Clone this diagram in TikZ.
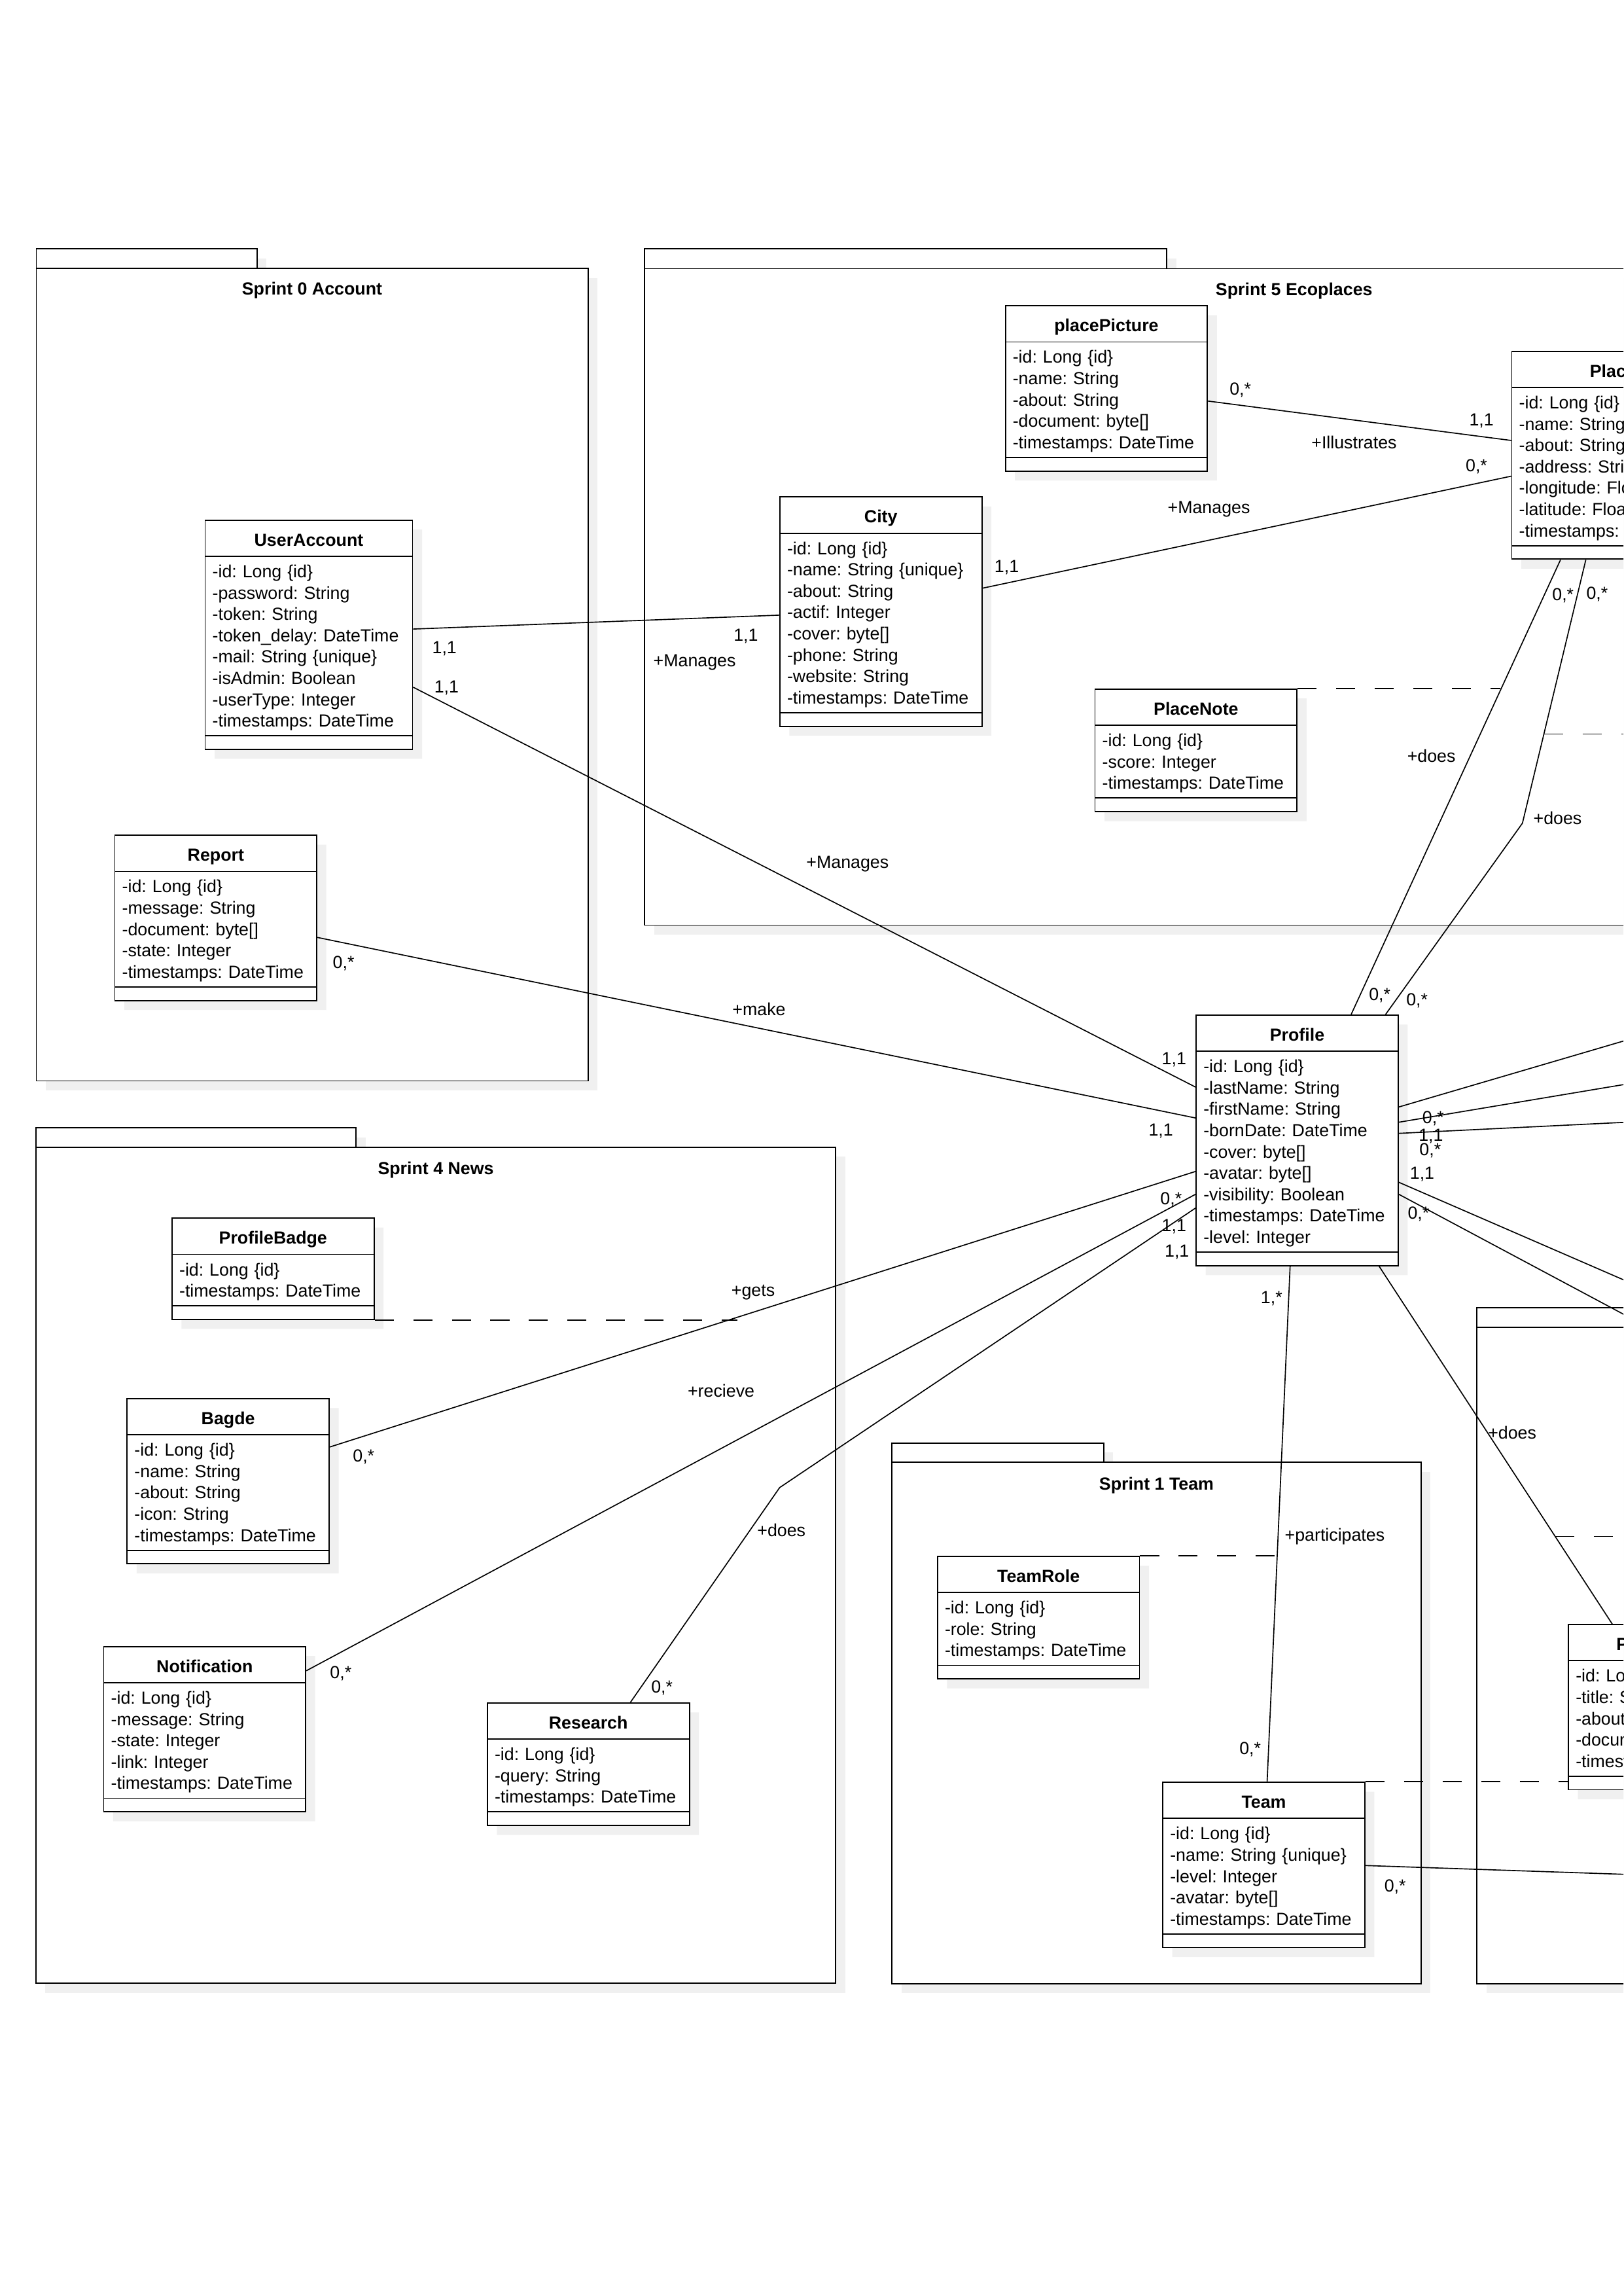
\documentclass[tikz,border=0pt]{standalone}
\usepackage{fontspec}
\setmainfont{Liberation Sans}
\usetikzlibrary{shapes.multipart,shadows,calc,positioning}

\newcommand{\umlfont}{\fontsize{6.45}{7.85}\selectfont\frenchspacing}
\newcommand{\umltitle}[1]{\makebox[\linewidth][c]{\rule[-3.58pt]{0pt}{12.88pt}\textbf{#1}}}
\newcommand{\umlfirst}{\rule{0pt}{7.6pt}}
\newcommand{\umllast}{\rule[-3.06pt]{0pt}{3.06pt}}
\newcommand{\umlops}{\rule{0pt}{4.53pt}}

\tikzset{
    shadowed/.style={drop shadow={shadow xshift=1.23mm, shadow yshift=-1.23mm, fill=black!6, opacity=1}},
    umlclass/.style={rectangle split, rectangle split parts=3, draw, fill=white, line width=0.45pt,
        anchor=north west, align=left, text width=68.97pt, inner xsep=2.7pt, inner ysep=0pt, shadowed},
    package/.style={draw, fill=white, line width=0.45pt, shadowed},
    pkgtitle/.style={font=\umlfont\bfseries, inner sep=0pt, text height=4.6pt, text depth=0pt},
    mult/.style={inner sep=0pt, text height=4.6pt, text depth=0pt},
    assoc/.style={line width=0.4pt},
    link/.style={line width=0.4pt, dash pattern=on 7pt off 7.2pt}
}

\begin{document}
\begin{tikzpicture}[x=0.18941mm, y=-0.18941mm, font=\umlfont]
	\useasboundingbox (0,0) rectangle (1109,1568);
	\clip (0,0) rectangle (1109,1568);

	% packages
	\draw[package] (24.8,170) rectangle (175.6,183.3);
	\draw[package] (24.8,183.3) rectangle (401.7,738.2);
	\node[pkgtitle] (sprint0) at (213.2,197.3) {Sprint 0 Account};

	\draw[package] (440.4,170) rectangle (797,183.5);
	\draw[package] (440.4,183.5) rectangle (1327.6,631.8);
	\node[pkgtitle] (sprint5) at (884,197.4) {Sprint 5 Ecoplaces};

	\draw[package] (24.5,770.3) rectangle (243.2,783.4);
	\draw[package] (24.5,783.4) rectangle (570.9,1354.5);
	\node[pkgtitle] (sprint4) at (297.7,797.7) {Sprint 4 News};

	\draw[package] (609.4,985.5) rectangle (753.9,998.7);
	\draw[package] (609.4,998.7) rectangle (970.7,1354.6);
	\node[pkgtitle] (sprint1) at (790,1013.2) {Sprint 1 Team};

	\draw[package] (1009,893) rectangle (1300,906.5);
	\draw[package] (1009,906.5) rectangle (1500,1354.6);

	% classes
	\node[umlclass, text width=70.96pt] (useraccount) at (139.7,354.8) {\umltitle{UserAccount}
		\nodepart{two}\umlfirst -id: Long \{id\}\\
		-password: String\\
		-token: String\\
		-token\_delay: DateTime\\
		-mail: String \{unique\}\\
		-isAdmin: Boolean\\
		-userType: Integer\\
		-timestamps: DateTime\umllast
		\nodepart{three}\umlops};
	\node[umlclass] (report) at (78,570) {\umltitle{Report}
		\nodepart{two}\umlfirst -id: Long \{id\}\\
		-message: String\\
		-document: byte[]\\
		-state: Integer\\
		-timestamps: DateTime\umllast
		\nodepart{three}\umlops};
	\node[umlclass] (city) at (532.3,339) {\umltitle{City}
		\nodepart{two}\umlfirst -id: Long \{id\}\\
		-name: String \{unique\}\\
		-about: String\\
		-actif: Integer\\
		-cover: byte[]\\
		-phone: String\\
		-website: String\\
		-timestamps: DateTime\umllast
		\nodepart{three}\umlops};
	\node[umlclass] (placepicture) at (686.4,208.4) {\umltitle{placePicture}
		\nodepart{two}\umlfirst -id: Long \{id\}\\
		-name: String\\
		-about: String\\
		-document: byte[]\\
		-timestamps: DateTime\umllast
		\nodepart{three}\umlops};
	\node[umlclass] (place) at (1032.3,239.5) {\umltitle{Place}
		\nodepart{two}\umlfirst -id: Long \{id\}\\
		-name: String\\
		-about: String\\
		-address: String\\
		-longitude: Float\\
		-latitude: Float\\
		-timestamps: DateTime\umllast
		\nodepart{three}\umlops};
	\node[umlclass] (placenote) at (747.6,470.1) {\umltitle{PlaceNote}
		\nodepart{two}\umlfirst -id: Long \{id\}\\
		-score: Integer\\
		-timestamps: DateTime\umllast
		\nodepart{three}\umlops};
	\node[umlclass] (profile) at (816.7,692.8) {\umltitle{Profile}
		\nodepart{two}\umlfirst -id: Long \{id\}\\
		-lastName: String\\
		-firstName: String\\
		-bornDate: DateTime\\
		-cover: byte[]\\
		-avatar: byte[]\\
		-visibility: Boolean\\
		-timestamps: DateTime\\
		-level: Integer\umllast
		\nodepart{three}\umlops};
	\node[umlclass] (profilebadge) at (117.1,831.5) {\umltitle{ProfileBadge}
		\nodepart{two}\umlfirst -id: Long \{id\}\\
		-timestamps: DateTime\umllast
		\nodepart{three}\umlops};
	\node[umlclass] (bagde) at (86.4,954.7) {\umltitle{Bagde}
		\nodepart{two}\umlfirst -id: Long \{id\}\\
		-name: String\\
		-about: String\\
		-icon: String\\
		-timestamps: DateTime\umllast
		\nodepart{three}\umlops};
	\node[umlclass] (notification) at (70.4,1124) {\umltitle{Notification}
		\nodepart{two}\umlfirst -id: Long \{id\}\\
		-message: String\\
		-state: Integer\\
		-link: Integer\\
		-timestamps: DateTime\umllast
		\nodepart{three}\umlops};
	\node[umlclass] (research) at (332.5,1162.5) {\umltitle{Research}
		\nodepart{two}\umlfirst -id: Long \{id\}\\
		-query: String\\
		-timestamps: DateTime\umllast
		\nodepart{three}\umlops};
	\node[umlclass] (teamrole) at (640,1062.4) {\umltitle{TeamRole}
		\nodepart{two}\umlfirst -id: Long \{id\}\\
		-role: String\\
		-timestamps: DateTime\umllast
		\nodepart{three}\umlops};
	\node[umlclass] (team) at (793.9,1216.7) {\umltitle{Team}
		\nodepart{two}\umlfirst -id: Long \{id\}\\
		-name: String \{unique\}\\
		-level: Integer\\
		-avatar: byte[]\\
		-timestamps: DateTime\umllast
		\nodepart{three}\umlops};
	\node[umlclass] (presentation) at (1071,1109) {\umltitle{Presentation}
		\nodepart{two}\umlfirst -id: Long \{id\}\\
		-title: String\\
		-about: String\\
		-document: byte[]\\
		-timestamps: DateTime\umllast
		\nodepart{three}\umlops};

	% free ends past the page edge
	\coordinate (rim) at (1115,0);
	\coordinate (out1) at (1115,709.2);
	\coordinate (out2) at (1115,739.7);
	\coordinate (out3) at (1115,766.2);
	\coordinate (out4) at (1115,876.6);
	\coordinate (out5) at (1115,900.7);
	\coordinate (out6) at (1115,1280.2);
	\coordinate (placebend) at (1040,562.2);
	\coordinate (researchbend) at (532.6,1015.9);

	% associations
	\draw[assoc] ($(useraccount.north east)+(0,74.8)$) -- ($(city.north west)+(0,81.1)$);
	\draw[assoc] ($(useraccount.north east)+(0,114.5)$) -- ($(profile.north west)+(0,49.6)$);
	\draw[assoc] ($(report.north east)+(0,70.2)$) -- ($(profile.north west)+(0,70.7)$);
	\draw[assoc] ($(city.north east)+(0,62.7)$) -- ($(place.north west)+(0,85.7)$);
	\draw[assoc] ($(placepicture.north east)+(0,65.5)$) -- ($(place.north west)+(0,61.3)$);
	\draw[assoc] ($(place.south west)+(33.7,0)$) -- coordinate[pos=0.287] (notelink) ($(profile.north west)+(106.3,0)$);
	\draw[assoc] ($(place.south west)+(51,0)$) -- coordinate[pos=0.661] (placelink) (placebend) -- ($(profile.north west)+(129.8,0)$);
	\draw[assoc] ($(bagde.north east)+(0,33.5)$) -- coordinate[pos=0.471] (badgelink) ($(profile.north west)+(0,107.2)$);
	\draw[assoc] ($(notification.north east)+(0,17)$) -- ($(profile.north west)+(0,122.8)$);
	\draw[assoc] ($(research.north west)+(98.2,0)$) -- (researchbend) -- ($(profile.north west)+(0,132.2)$);
	\draw[assoc] ($(profile.south west)+(64.6,0)$) -- coordinate[pos=0.564] (rolelink) ($(team.north west)+(71.7,0)$);
	\draw[assoc] ($(profile.south west)+(125.4,0)$) -- coordinate[pos=0.7555] (presentlink) ($(presentation.north west)+(30.3,0)$);
	\draw[assoc] ($(team.north east)+(0,57.3)$) -- (out6);
	\draw[assoc] ($(profile.north east)+(0,63.2)$) -- (out1);
	\draw[assoc] ($(profile.north east)+(0,73.6)$) -- (out2);
	\draw[assoc] ($(profile.north east)+(0,81.2)$) -- (out3);
	\draw[assoc] ($(profile.north east)+(0,114.6)$) -- (out4);
	\draw[assoc] ($(profile.north east)+(0,122.8)$) -- (out5);

	% association classes
	\draw[link] (placenote.north east) -- (placenote.north east -| notelink);
	\draw[link] (placelink) -- (placelink -| rim);
	\draw[link] (profilebadge.south east) -- (profilebadge.south east -| badgelink);
	\draw[link] (teamrole.north east) -- (teamrole.north east -| rolelink);
	\draw[link] (presentlink) -- (presentlink -| rim);
	\draw[link] (team.north east) -- (team.north east -| presentation.west);

	% labels
	\node[mult] (ua-city-a) at (303.6,441.9) {1,1};
	\node[mult] (ua-city-b) at (509.5,433.4) {1,1};
	\node[mult] (ua-city-r) at (474.5,451) {+Manages};
	\node[mult] (ua-prof-a) at (305,468.8) {1,1};
	\node[mult] (ua-prof-b) at (802,722.7) {1,1};
	\node[mult] (ua-prof-r) at (579,588.8) {+Manages};
	\node[mult] (rep-prof-a) at (234.7,657) {0,*};
	\node[mult] (rep-prof-b) at (793,771.5) {1,1};
	\node[mult] (rep-prof-r) at (518.5,689) {+make};
	\node[mult] (city-place-a) at (687.7,386.8) {1,1};
	\node[mult] (city-place-b) at (1008.6,318) {0,*};
	\node[mult] (city-place-r) at (825.8,346.2) {+Manages};
	\node[mult] (pic-place-a) at (847.3,265.6) {0,*};
	\node[mult] (pic-place-b) at (1012,286.7) {1,1};
	\node[mult] (pic-place-r) at (925,302) {+Illustrates};
	\node[mult] (note-a) at (1067.7,406) {0,*};
	\node[mult] (note-b) at (942.5,678.8) {0,*};
	\node[mult] (note-r) at (977.8,516.3) {+does};
	\node[mult] (visit-a) at (1091,405) {0,*};
	\node[mult] (visit-b) at (968,682.5) {0,*};
	\node[mult] (visit-r) at (1064,558.8) {+does};
	\node[mult] (badge-a) at (248.4,994) {0,*};
	\node[mult] (badge-b) at (800,818.5) {0,*};
	\node[mult] (badge-r) at (514.5,881) {+gets};
	\node[mult] (notif-a) at (232.8,1142) {0,*};
	\node[mult] (notif-b) at (802,836.5) {1,1};
	\node[mult] (notif-r) at (492.6,950) {+recieve};
	\node[mult] (search-a) at (452.2,1152) {0,*};
	\node[mult] (search-b) at (804,854) {1,1};
	\node[mult] (search-r) at (533.8,1045) {+does};
	\node[mult] (team-a) at (868.6,885.8) {1,*};
	\node[mult] (team-b) at (854,1194) {0,*};
	\node[mult] (team-r) at (911.8,1048) {+participates};
	\node[mult] (present-r) at (1033,978.3) {+does};
	\node[mult] (team-out) at (953,1287.6) {0,*};
	\node[mult] (out1-a) at (979,763) {0,*};
	\node[mult] (out2-a) at (977.5,775) {1,1};
	\node[mult] (out3-a) at (977,785) {0,*};
	\node[mult] (out4-a) at (971.5,801) {1,1};
	\node[mult] (out5-a) at (969,828) {0,*};
\end{tikzpicture}
\end{document}
